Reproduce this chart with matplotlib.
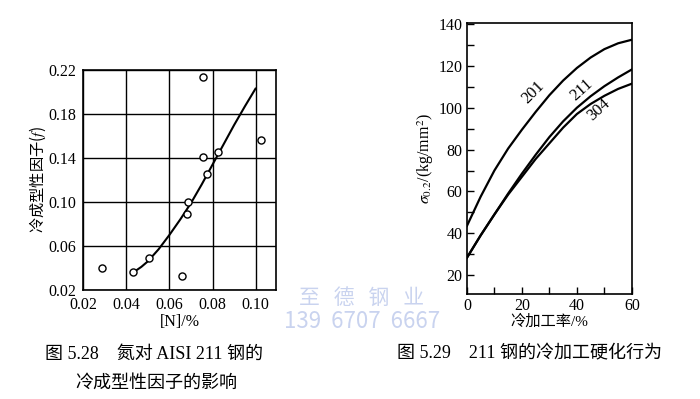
import matplotlib.pyplot as plt

plt.rcParams['font.family'] = ['Liberation Serif', 'Noto Sans CJK SC', 'DejaVu Sans']
plt.rcParams['mathtext.fontset'] = 'stix'

# fig 5.28: nitrogen content vs cold forming factor
n_pct = [0.0286, 0.0433, 0.0505, 0.0659, 0.0682, 0.0686, 0.0757, 0.0757, 0.0773, 0.0826, 0.1023]
f_val = [0.040, 0.0363, 0.0493, 0.0327, 0.0892, 0.100, 0.2134, 0.1405, 0.1254, 0.145, 0.1566]
fit_n = [0.0433, 0.047, 0.050, 0.055, 0.060, 0.065, 0.070, 0.075, 0.080, 0.085, 0.090, 0.095, 0.0999]
fit_f = [0.036, 0.041, 0.046, 0.057, 0.070, 0.084, 0.099, 0.116, 0.134, 0.152, 0.170, 0.187, 0.203]

# fig 5.29: cold work hardening
work = [0, 5, 10, 15, 20, 25, 30, 35, 40, 45, 50, 55, 60]
s201 = [43.5, 57.5, 70.0, 80.5, 89.5, 98.0, 106.0, 113.0, 119.0, 124.0, 128.0, 130.8, 132.5]
s211 = [28.3, 39.0, 49.0, 59.0, 68.5, 77.5, 86.0, 93.5, 100.0, 105.5, 110.3, 114.5, 118.3]
s304 = [28.3, 39.0, 49.0, 58.5, 67.0, 75.5, 83.0, 90.5, 97.0, 101.8, 105.7, 109.0, 111.5]

fig = plt.figure(figsize=(7, 3.99), dpi=100)

# left chart
ax1 = fig.add_axes([0.1186, 0.2732, 0.2757, 0.5514])
ax1.plot(fit_n, fit_f, color='black', lw=1.5)
ax1.scatter(n_pct, f_val, s=26, facecolors='white', edgecolors='black', linewidths=1.0, zorder=3)
ax1.set_xlim(0.02, 0.1094)
ax1.set_ylim(0.02, 0.22)
ax1.set_xticks([0.02, 0.04, 0.06, 0.08, 0.10])
ax1.set_xticklabels(['0.02', '0.04', '0.06', '0.08', '0.10'])
ax1.set_yticks([0.02, 0.06, 0.10, 0.14, 0.18, 0.22])
ax1.set_yticklabels(['0.02', '0.06', '0.10', '0.14', '0.18', '0.22'])
ax1.grid(True, color='black', lw=1.0)
ax1.tick_params(length=0, labelsize=11.5, pad=5)
for s in ax1.spines.values():
    s.set_linewidth(1.2)
ax1.set_xlabel('[N]/%', fontsize=11.5, labelpad=1)
ax1.set_ylabel('冷成型性因子($f$)', fontsize=11, family=['Noto Sans CJK SC', 'DejaVu Sans'], labelpad=0)

# right chart
ax2 = fig.add_axes([0.667, 0.2632, 0.2357, 0.6792])
for ys in (s201, s211, s304):
    ax2.plot(work, ys, color='black', lw=1.6)
ax2.set_xlim(0, 60)
ax2.set_ylim(11, 140.5)
ax2.set_xticks([0, 20, 40, 60])
ax2.set_xticks([10, 30, 50], minor=True)
ax2.set_yticks([20, 40, 60, 80, 100, 120, 140])
ax2.set_yticks([30, 50, 70, 90, 110, 130], minor=True)
ax2.tick_params(which='both', direction='in', length=5, width=1.0, labelsize=11.5, pad=3)
for s in ax2.spines.values():
    s.set_linewidth(1.2)
ax2.set_xlabel('冷加工率/%', fontsize=11, labelpad=0)
ax2.set_ylabel(r'$\sigma_{0.2}$/(kg/mm$^2$)', fontsize=11.5, labelpad=2)

# curve labels
ax2.annotate('201', (533, 399 - 92), xycoords='figure pixels', fontsize=12, rotation=45,
             ha='center', va='center')
ax2.annotate('211', (582, 399 - 90), xycoords='figure pixels', fontsize=12, rotation=42,
             ha='center', va='center')
ax2.annotate('304', (599, 399 - 110), xycoords='figure pixels', fontsize=12, rotation=42,
             ha='center', va='center')

# watermark
wm = '#c9d3ef'
fig.text(362 / 700, 1 - 298 / 399, '至   德   钢   业', fontsize=15, color=wm, ha='center', va='center',
         family=['Noto Sans CJK SC'])
fig.text(362 / 700, 1 - 322 / 399, '139  6707  6667', fontsize=16, color=wm, ha='center', va='center',
         family=['Noto Sans CJK SC'])

# captions
fig.text(45 / 700, 1 - 354 / 399, '图 5.28    氮对 AISI 211 钢的', fontsize=13, ha='left', va='center')
fig.text(75 / 700, 1 - 383 / 399, '冷成型性因子的影响', fontsize=13, ha='left', va='center')
fig.text(397 / 700, 1 - 354 / 399, '图 5.29    211 钢的冷加工硬化行为', fontsize=13, ha='left', va='center')

fig.savefig('out.png', dpi=100)
